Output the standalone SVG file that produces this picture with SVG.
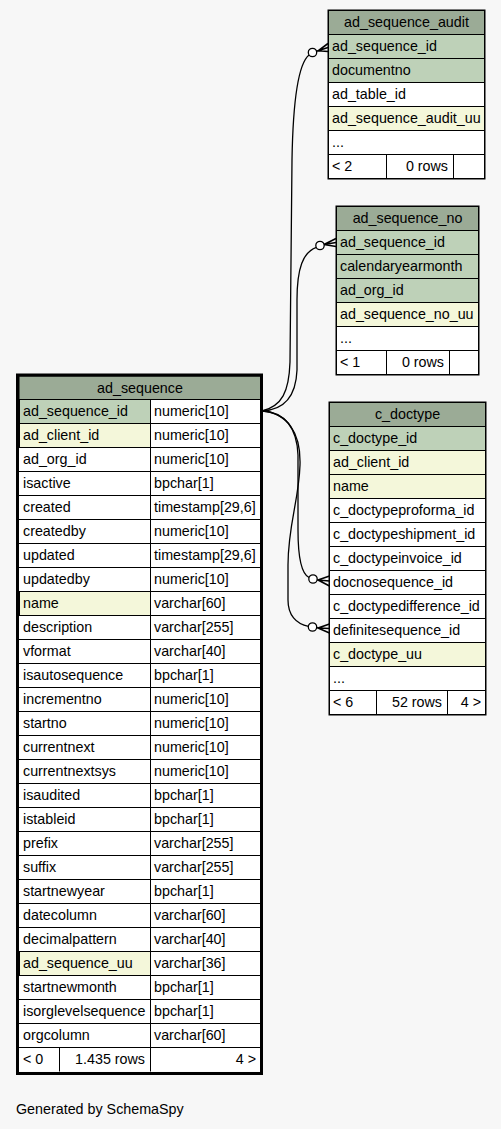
<svg xmlns="http://www.w3.org/2000/svg" width="501" height="1129" viewBox="0 0 501 1129">
<style>
text{font-family:"Liberation Sans",Arial,Helvetica,sans-serif;font-size:14.3px;fill:#000}
.c{text-anchor:middle}
.r{text-anchor:end}
.hdr{fill:#9bab96;stroke:#000;stroke-width:1}
.pk{fill:#bed1b8;stroke:#000;stroke-width:1}
.ix{fill:#f4f7da;stroke:#000;stroke-width:1}
.w{fill:#fff;stroke:#000;stroke-width:1}
.ln{fill:none;stroke:#000;stroke-width:1}
.e{fill:none;stroke:#000;stroke-width:1.3}
.cr{fill:none;stroke:#000;stroke-width:1.6}
.od{fill:#fff;stroke:#000;stroke-width:1.3}
</style>
<rect width="501" height="1129" fill="#f7f7f7"/>

<g id="connectors">
<path class="e" d="M262,411 C282,406 289,392 290,362 L292,160 C293,100 298,64 309,55"/>
<circle class="od" cx="312.5" cy="52.5" r="4.2"/>
<path class="cr" d="M316.5,51.3 L318,50.8 M318,50.8 L328,43.5 M318,50.8 L328,47.5 M318,50.8 L328,51.5"/>

<path class="e" d="M262,411 C284,410 296,396 297,370 L297,300 C297,268 303,252 316.5,247.3"/>
<circle class="od" cx="320" cy="245.5" r="4.2"/>
<path class="cr" d="M324,244.5 L336,238.5 M324,244.5 L336,242.5 M324,244.5 L336,246.5"/>

<path class="e" d="M262,411 C285,412 297,428 298,455 L298,530 C298,560 302,574 309,577.5"/>
<circle class="od" cx="313" cy="579" r="4.2"/>
<path class="cr" d="M317,580 L318,580 M318,580 L329.5,576 M318,580 L329.5,581 M318,580 L329.5,586"/>

<path class="e" d="M262,411 C287,413 301,432 300,465 C299,500 288,525 288,565 L288,600 C288,615 296,624 308.5,626.3"/>
<circle class="od" cx="312.5" cy="627" r="4.2"/>
<path class="cr" d="M316.5,627.5 L318,628 M318,628 L329.5,624 M318,628 L329.5,628.5 M318,628 L329.5,633"/>
</g>

<g id="ad_sequence_audit">
<rect class="hdr" x="328.5" y="10.5" width="156" height="24"/>
<rect class="pk" x="328.5" y="34.5" width="156" height="24"/>
<rect class="pk" x="328.5" y="58.5" width="156" height="24"/>
<rect class="w" x="328.5" y="82.5" width="156" height="24"/>
<rect class="ix" x="328.5" y="106.5" width="156" height="24"/>
<rect class="w" x="328.5" y="130.5" width="156" height="24"/>
<rect class="w" x="328.5" y="154.5" width="58" height="24"/>
<rect class="w" x="386.5" y="154.5" width="67" height="24"/>
<rect class="w" x="453.5" y="154.5" width="31" height="24"/>
<rect class="ln" x="328" y="10" width="157" height="169"/>
<text class="c" x="406.5" y="27">ad_sequence_audit</text>
<text x="332" y="51">ad_sequence_id</text>
<text x="332" y="75">documentno</text>
<text x="332" y="99">ad_table_id</text>
<text x="332" y="123">ad_sequence_audit_uu</text>
<text x="332" y="147">...</text>
<text x="332" y="171">&lt; 2</text>
<text class="r" x="448" y="171">0 rows</text>
</g>

<g id="ad_sequence_no">
<rect class="hdr" x="336.5" y="206.5" width="142" height="24"/>
<rect class="pk" x="336.5" y="230.5" width="142" height="24"/>
<rect class="pk" x="336.5" y="254.5" width="142" height="24"/>
<rect class="pk" x="336.5" y="278.5" width="142" height="24"/>
<rect class="ix" x="336.5" y="302.5" width="142" height="24"/>
<rect class="w" x="336.5" y="326.5" width="142" height="24"/>
<rect class="w" x="336.5" y="350.5" width="50" height="24"/>
<rect class="w" x="386.5" y="350.5" width="63" height="24"/>
<rect class="w" x="449.5" y="350.5" width="29" height="24"/>
<rect class="ln" x="336" y="206" width="143" height="169"/>
<text class="c" x="407.5" y="223">ad_sequence_no</text>
<text x="340" y="247">ad_sequence_id</text>
<text x="340" y="271">calendaryearmonth</text>
<text x="340" y="295">ad_org_id</text>
<text x="340" y="319">ad_sequence_no_uu</text>
<text x="340" y="343">...</text>
<text x="340" y="367">&lt; 1</text>
<text class="r" x="444" y="367">0 rows</text>
</g>

<g id="c_doctype">
<rect class="hdr" x="329.5" y="402.5" width="156" height="24"/>
<rect class="pk" x="329.5" y="426.5" width="156" height="24"/>
<rect class="ix" x="329.5" y="450.5" width="156" height="24"/>
<rect class="ix" x="329.5" y="474.5" width="156" height="24"/>
<rect class="w" x="329.5" y="498.5" width="156" height="24"/>
<rect class="w" x="329.5" y="522.5" width="156" height="24"/>
<rect class="w" x="329.5" y="546.5" width="156" height="24"/>
<rect class="w" x="329.5" y="570.5" width="156" height="24"/>
<rect class="w" x="329.5" y="594.5" width="156" height="24"/>
<rect class="w" x="329.5" y="618.5" width="156" height="24"/>
<rect class="ix" x="329.5" y="642.5" width="156" height="24"/>
<rect class="w" x="329.5" y="666.5" width="156" height="24"/>
<rect class="w" x="329.5" y="690.5" width="47" height="24"/>
<rect class="w" x="376.5" y="690.5" width="71" height="24"/>
<rect class="w" x="447.5" y="690.5" width="38" height="24"/>
<rect class="ln" x="329" y="402" width="157" height="313"/>
<text class="c" x="407.5" y="419">c_doctype</text>
<text x="333" y="443">c_doctype_id</text>
<text x="333" y="467">ad_client_id</text>
<text x="333" y="491">name</text>
<text x="333" y="515">c_doctypeproforma_id</text>
<text x="333" y="539">c_doctypeshipment_id</text>
<text x="333" y="563">c_doctypeinvoice_id</text>
<text x="333" y="587">docnosequence_id</text>
<text x="333" y="611">c_doctypedifference_id</text>
<text x="333" y="635">definitesequence_id</text>
<text x="333" y="659">c_doctype_uu</text>
<text x="333" y="683">...</text>
<text x="333" y="707">&lt; 6</text>
<text class="r" x="442" y="707">52 rows</text>
<text class="r" x="481" y="707">4 &gt;</text>
</g>

<g id="ad_sequence">
<rect class="hdr" x="19" y="376" width="242" height="23.5" stroke="none"/>
<rect x="19" y="399.5" width="242" height="672" fill="#fff"/>
<rect class="pk" x="19.5" y="399.5" width="131" height="24"/>
<rect class="ix" x="19.5" y="423.5" width="131" height="24"/>
<rect class="ix" x="19.5" y="591.5" width="131" height="24"/>
<rect class="ix" x="19.5" y="951.5" width="131" height="24"/>
<path class="ln" d="M19 399.5H261M19 423.5H261M19 447.5H261M19 471.5H261M19 495.5H261M19 519.5H261M19 543.5H261M19 567.5H261M19 591.5H261M19 615.5H261M19 639.5H261M19 663.5H261M19 687.5H261M19 711.5H261M19 735.5H261M19 759.5H261M19 783.5H261M19 807.5H261M19 831.5H261M19 855.5H261M19 879.5H261M19 903.5H261M19 927.5H261M19 951.5H261M19 975.5H261M19 999.5H261M19 1023.5H261M19 1047.5H261M150.5 399.5V1071.5M59.5 1047.5V1071.5"/>
<rect x="17.5" y="375" width="244" height="698.5" fill="none" stroke="#000" stroke-width="3"/>
<text class="c" x="140" y="392.5">ad_sequence</text>
<text x="23" y="416">ad_sequence_id</text><text x="154" y="416">numeric[10]</text>
<text x="23" y="440">ad_client_id</text><text x="154" y="440">numeric[10]</text>
<text x="23" y="464">ad_org_id</text><text x="154" y="464">numeric[10]</text>
<text x="23" y="488">isactive</text><text x="154" y="488">bpchar[1]</text>
<text x="23" y="512">created</text><text x="154" y="512">timestamp[29,6]</text>
<text x="23" y="536">createdby</text><text x="154" y="536">numeric[10]</text>
<text x="23" y="560">updated</text><text x="154" y="560">timestamp[29,6]</text>
<text x="23" y="584">updatedby</text><text x="154" y="584">numeric[10]</text>
<text x="23" y="608">name</text><text x="154" y="608">varchar[60]</text>
<text x="23" y="632">description</text><text x="154" y="632">varchar[255]</text>
<text x="23" y="656">vformat</text><text x="154" y="656">varchar[40]</text>
<text x="23" y="680">isautosequence</text><text x="154" y="680">bpchar[1]</text>
<text x="23" y="704">incrementno</text><text x="154" y="704">numeric[10]</text>
<text x="23" y="728">startno</text><text x="154" y="728">numeric[10]</text>
<text x="23" y="752">currentnext</text><text x="154" y="752">numeric[10]</text>
<text x="23" y="776">currentnextsys</text><text x="154" y="776">numeric[10]</text>
<text x="23" y="800">isaudited</text><text x="154" y="800">bpchar[1]</text>
<text x="23" y="824">istableid</text><text x="154" y="824">bpchar[1]</text>
<text x="23" y="848">prefix</text><text x="154" y="848">varchar[255]</text>
<text x="23" y="872">suffix</text><text x="154" y="872">varchar[255]</text>
<text x="23" y="896">startnewyear</text><text x="154" y="896">bpchar[1]</text>
<text x="23" y="920">datecolumn</text><text x="154" y="920">varchar[60]</text>
<text x="23" y="944">decimalpattern</text><text x="154" y="944">varchar[40]</text>
<text x="23" y="968">ad_sequence_uu</text><text x="154" y="968">varchar[36]</text>
<text x="23" y="992">startnewmonth</text><text x="154" y="992">bpchar[1]</text>
<text x="23" y="1016">isorglevelsequence</text><text x="154" y="1016">bpchar[1]</text>
<text x="23" y="1040">orgcolumn</text><text x="154" y="1040">varchar[60]</text>
<text x="23" y="1064">&lt; 0</text>
<text class="r" x="145" y="1064">1.435 rows</text>
<text class="r" x="256" y="1064">4 &gt;</text>
</g>

<text x="16" y="1114">Generated by SchemaSpy</text>
</svg>
